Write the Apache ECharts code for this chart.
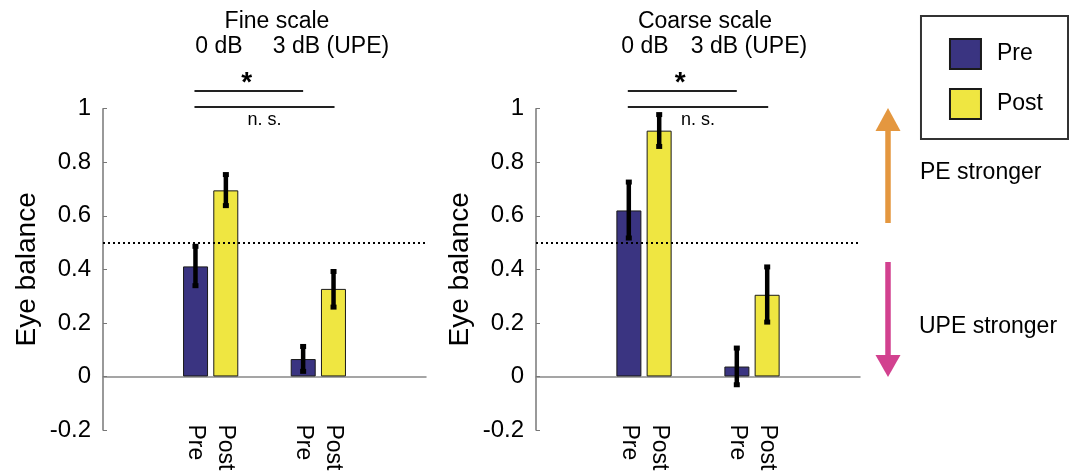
<!DOCTYPE html>
<html>
<head>
<meta charset="utf-8">
<script src="https://cdn.jsdelivr.net/npm/echarts@6/dist/echarts.min.js"></script>
<style>
  html, body { margin: 0; padding: 0; background: #fff; }
  #chart { width: 1072px; height: 473px; }
</style>
</head>
<body>
<div id="chart"></div>
<script>
// groups on the x axis (empty slots at both ends, like xlim [0 3])
const groups = ['0 dB', '3 dB (UPE)']
const panelTitles = ['Fine scale', 'Coarse scale']

// fine scale
const finePre = [0.411, 0.065]
const finePost = [0.695, 0.327]
const finePreLow = [0.339, 0.019]
const finePreHigh = [0.486, 0.112]
const finePostLow = [0.638, 0.259]
const finePostHigh = [0.754, 0.392]

// coarse scale
const coarsePre = [0.62, 0.037]
const coarsePost = [0.918, 0.305]
const coarsePreLow = [0.517, -0.031]
const coarsePreHigh = [0.726, 0.106]
const coarsePostLow = [0.859, 0.203]
const coarsePostHigh = [0.978, 0.409]

const chanceLevel = 0.5

const FONT = '"Liberation Sans", Arial, Helvetica, sans-serif'
const PRE_COLOR = '#3a3481'
const POST_COLOR = '#efe641'
const BAR_W = 25
const BAR_OFFSET = 15.2 // half bar + half gap

const chart = echarts.init(document.getElementById('chart'))

const padded = arr => ['-', ...arr, '-']
const errData = (lows, highs, side) => lows.map((lo, i) => [i + 1, lo, highs[i], side])

const errorItem = (params, api) => {
  const x = api.value(0)
  const top = api.coord([x, api.value(2)])
  const bot = api.coord([x, api.value(1)])
  const cx = top[0] + api.value(3) * BAR_OFFSET
  return {
    type: 'group',
    children: [
      { type: 'line', shape: { x1: cx, y1: top[1], x2: cx, y2: bot[1] }, style: { stroke: '#000', lineWidth: 4.5 } },
      { type: 'rect', shape: { x: cx - 3, y: top[1] - 2.5, width: 6, height: 5 }, style: { fill: '#000' } },
      { type: 'rect', shape: { x: cx - 3, y: bot[1] - 2.5, width: 6, height: 5 }, style: { fill: '#000' } },
    ],
  }
}

// significance brackets above each panel
const sigItem = (params, api) => {
  const g1 = api.coord([1, 1])
  const g2 = api.coord([2, 1])
  const a = g1[0] - BAR_OFFSET - 1
  const b = g2[0] - BAR_OFFSET
  const c = g2[0] + BAR_OFFSET + 1
  const top = g1[1]
  const line = (x1, x2, y) => ({
    type: 'line',
    shape: { x1, y1: y, x2, y2: y },
    style: { stroke: '#222', lineWidth: 2 },
  })
  return {
    type: 'group',
    children: [
      line(a, b, top - 17.7),
      line(a, c, top - 1.7),
      {
        type: 'text',
        x: (a + b) / 2 - 2,
        y: top - 25,
        style: { text: '*', font: 'bold 28px ' + FONT, fill: '#000', align: 'center', verticalAlign: 'middle' },
      },
      {
        type: 'text',
        x: (a + c) / 2,
        y: top + 11,
        style: { text: 'n. s.', font: '18px ' + FONT, fill: '#000', align: 'center', verticalAlign: 'middle' },
      },
    ],
  }
}

const barLabel = {
  show: true,
  position: 'bottom',
  distance: 48,
  rotate: -90,
  align: 'left',
  verticalAlign: 'middle',
  formatter: '{a}',
  fontFamily: FONT,
  fontSize: 23,
  color: '#000',
}

const makeSeries = (idx, pre, post, preLo, preHi, postLo, postHi) => [
  {
    name: 'Pre',
    type: 'bar',
    xAxisIndex: idx,
    yAxisIndex: idx,
    data: padded(pre),
    barWidth: BAR_W,
    barGap: '21%',
    itemStyle: { color: PRE_COLOR, borderColor: '#1a1a1a', borderWidth: 1 },
    label: barLabel,
    silent: true,
    markLine: {
      silent: true,
      symbol: 'none',
      label: { show: false },
      lineStyle: { type: [2, 3], color: '#000', width: 2 },
      data: [{ yAxis: chanceLevel }],
    },
  },
  {
    name: 'Post',
    type: 'bar',
    xAxisIndex: idx,
    yAxisIndex: idx,
    data: padded(post),
    barWidth: BAR_W,
    barGap: '21%',
    itemStyle: { color: POST_COLOR, borderColor: '#1a1a1a', borderWidth: 1 },
    label: barLabel,
    silent: true,
  },
  {
    type: 'custom',
    xAxisIndex: idx,
    yAxisIndex: idx,
    renderItem: errorItem,
    data: errData(preLo, preHi, -1).concat(errData(postLo, postHi, 1)),
    z: 5,
    silent: true,
  },
  {
    type: 'custom',
    xAxisIndex: idx,
    yAxisIndex: idx,
    renderItem: sigItem,
    data: [[0]],
    z: 5,
    silent: true,
  },
]

const makeX = idx => ({
  type: 'category',
  gridIndex: idx,
  data: ['', ...groups, ''],
  boundaryGap: false,
  axisLine: { onZero: true, lineStyle: { color: '#888', width: 1.5 } },
  axisTick: { show: false },
  axisLabel: { show: false },
  splitLine: { show: false },
})

const makeY = idx => ({
  type: 'value',
  gridIndex: idx,
  min: -0.2,
  max: 1,
  interval: 0.2,
  name: 'Eye balance',
  nameLocation: 'middle',
  nameGap: 62,
  nameTextStyle: { fontFamily: FONT, fontSize: 28, color: '#000' },
  axisLine: { show: true, lineStyle: { color: '#777', width: 1.5 } },
  axisTick: { show: true, inside: true, length: 4, lineStyle: { color: '#777' } },
  axisLabel: {
    fontFamily: FONT,
    fontSize: 24,
    color: '#000',
    margin: 12,
    formatter: v => String(Math.round(v * 10) / 10),
  },
  splitLine: { show: false },
})

const text = (x, y, str, size, align) => ({
  type: 'text',
  x,
  y,
  silent: true,
  style: {
    text: str,
    font: size + 'px ' + FONT,
    fill: '#000',
    align: align || 'center',
    verticalAlign: 'middle',
  },
})

const option = {
  animation: false,
  backgroundColor: '#fff',
  grid: [
    { left: 103, top: 108.7, width: 323, bottom: 43 },
    { left: 536, top: 108.7, width: 324, bottom: 43 },
  ],
  legend: {
    data: ['Pre', 'Post'],
    orient: 'vertical',
    right: 4,
    top: 16,
    icon: 'rect',
    itemWidth: 31,
    itemHeight: 30,
    itemGap: 18,
    padding: [22, 25, 19, 28],
    borderColor: '#333',
    borderWidth: 2,
    selectedMode: false,
    textStyle: { fontFamily: FONT, fontSize: 23, color: '#000', padding: [0, 0, 0, 11] },
  },
  xAxis: [makeX(0), makeX(1)],
  yAxis: [makeY(0), makeY(1)],
  series: [
    ...makeSeries(0, finePre, finePost, finePreLow, finePreHigh, finePostLow, finePostHigh),
    ...makeSeries(1, coarsePre, coarsePost, coarsePreLow, coarsePreHigh, coarsePostLow, coarsePostHigh),
  ],
  graphic: [
    text(277, 22, panelTitles[0], 23),
    text(219, 47, groups[0], 23),
    text(331, 47, groups[1], 23),
    text(705, 22, panelTitles[1], 23),
    text(645, 47, groups[0], 23),
    text(749, 47, groups[1], 23),
    // direction arrows
    { type: 'line', silent: true, shape: { x1: 888, y1: 223, x2: 888, y2: 130 }, style: { stroke: '#e4973f', lineWidth: 5.5 } },
    { type: 'polygon', silent: true, shape: { points: [[888, 108], [875.5, 131], [900.5, 131]] }, style: { fill: '#e4973f' } },
    { type: 'line', silent: true, shape: { x1: 888, y1: 262, x2: 888, y2: 356 }, style: { stroke: '#d2418f', lineWidth: 5.5 } },
    { type: 'polygon', silent: true, shape: { points: [[888, 377], [875.5, 355], [900.5, 355]] }, style: { fill: '#d2418f' } },
    text(920, 173, 'PE stronger', 23, 'left'),
    text(919, 327, 'UPE stronger', 23, 'left'),
  ],
}

chart.setOption(option)
</script>
</body>
</html>
